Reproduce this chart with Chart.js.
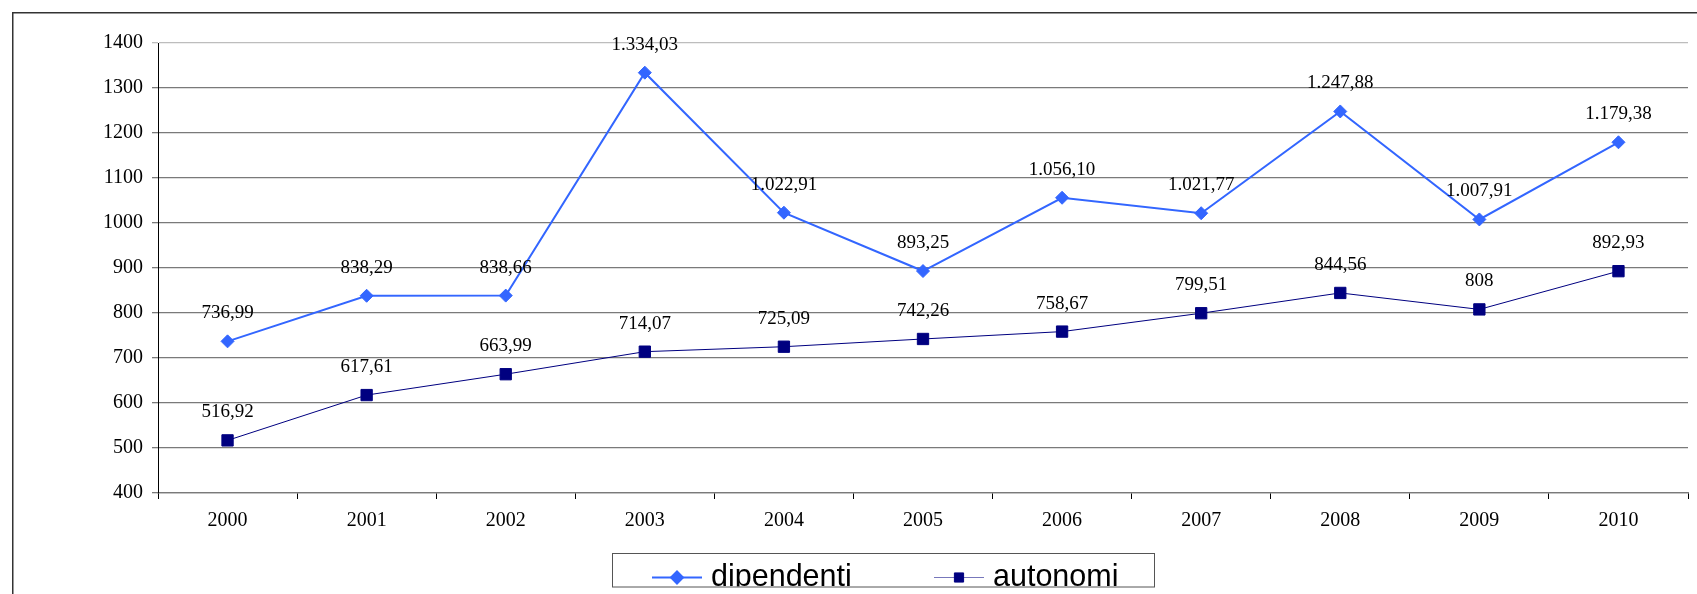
<!DOCTYPE html>
<html>
<head>
<meta charset="utf-8">
<script src="https://cdn.jsdelivr.net/npm/chart.js@4.4.1/dist/chart.umd.min.js"></script>
<style>
  html, body { margin: 0; padding: 0; background: #fff; overflow: hidden; }
  #wrap { position: relative; width: 1697px; height: 594px; }
  canvas { display: block; }
</style>
</head>
<body>
<div id="wrap"><canvas id="chart" width="1697" height="594"></canvas></div>
<script>
// Anni
const years = ['2000', '2001', '2002', '2003', '2004', '2005', '2006', '2007', '2008', '2009', '2010'];
// Valori per serie
const dipendenti = [736.99, 838.29, 838.66, 1334.03, 1022.91, 893.25, 1056.10, 1021.77, 1247.88, 1007.91, 1179.38];
const autonomi = [516.92, 617.61, 663.99, 714.07, 725.09, 742.26, 758.67, 799.51, 844.56, 808, 892.93];
// Asse Y
const yMin = 400;
const yMax = 1400;
const yStep = 100;

const SERIF = "'Liberation Serif', 'Times New Roman', serif";
const SANS = "'Liberation Sans', Arial, sans-serif";

// Formato italiano: punto per le migliaia, virgola per i decimali
function formatIt(v) {
  const s = Number.isInteger(v) ? String(v) : v.toFixed(2);
  const [intPart, dec] = s.split('.');
  const grouped = intPart.replace(/\B(?=(\d{3})+(?!\d))/g, '.');
  return dec !== undefined ? grouped + ',' + dec : grouped;
}

// Cornice esterna (solo lati sinistro e superiore visibili)
const framePlugin = {
  id: 'frame',
  beforeDraw(chart) {
    const ctx = chart.ctx;
    ctx.save();
    ctx.fillStyle = '#fff';
    ctx.fillRect(0, 0, chart.width, chart.height);
    ctx.strokeStyle = '#333';
    ctx.lineWidth = 1.5;
    ctx.beginPath();
    ctx.moveTo(12.75, chart.height + 2);
    ctx.lineTo(12.75, 12.75);
    ctx.lineTo(chart.width + 2, 12.75);
    ctx.stroke();
    ctx.restore();
  }
};

// Etichette dei valori sopra ogni punto
const valueLabelsPlugin = {
  id: 'valueLabels',
  afterDatasetsDraw(chart) {
    const ctx = chart.ctx;
    ctx.save();
    ctx.font = '19px ' + SERIF;
    ctx.fillStyle = '#000';
    ctx.textAlign = 'center';
    ctx.textBaseline = 'alphabetic';
    chart.data.datasets.forEach((ds, i) => {
      const meta = chart.getDatasetMeta(i);
      meta.data.forEach((pt, j) => {
        ctx.fillText(formatIt(ds.data[j]), pt.x, pt.y - 23);
      });
    });
    ctx.restore();
  }
};

// Legenda in riquadro sotto il grafico
const boxLegendPlugin = {
  id: 'boxLegend',
  afterDraw(chart, args, opts) {
    const ctx = chart.ctx;
    const box = opts.box;
    ctx.save();
    ctx.fillStyle = '#fff';
    ctx.fillRect(box.x, box.y, box.w, box.h);
    ctx.beginPath();
    ctx.rect(box.x, box.y, box.w, box.h);
    ctx.clip();
    ctx.font = '30.5px ' + SANS;
    ctx.textBaseline = 'alphabetic';
    ctx.textAlign = 'left';
    chart.data.datasets.forEach((ds, i) => {
      const x0 = opts.itemX[i];
      const cy = box.y + opts.lineY;
      ctx.strokeStyle = ds.legendLineColor || ds.borderColor;
      ctx.lineWidth = ds.borderWidth;
      ctx.beginPath();
      ctx.moveTo(x0, cy);
      ctx.lineTo(x0 + opts.lineLen, cy);
      ctx.stroke();
      ctx.fillStyle = ds.borderColor;
      ctx.strokeStyle = ds.borderColor;
      Chart.helpers.drawPoint(ctx, {
        pointStyle: ds.pointStyle,
        radius: opts.markerRadius[i],
        rotation: 0,
        borderWidth: 1
      }, x0 + opts.lineLen / 2, cy);
      ctx.fillStyle = '#000';
      ctx.fillText(ds.label, x0 + opts.lineLen + 9, box.y + opts.textY);
    });
    ctx.restore();
    ctx.save();
    ctx.strokeStyle = '#555';
    ctx.lineWidth = 1;
    ctx.strokeRect(box.x + 0.5, box.y + 0.5, box.w, box.h);
    ctx.restore();
  }
};

const chart = new Chart(document.getElementById('chart'), {
  type: 'line',
  data: {
    labels: years,
    datasets: [
      {
        label: 'dipendenti',
        data: dipendenti,
        borderColor: '#3366ff',
        backgroundColor: '#3366ff',
        borderWidth: 2,
        pointStyle: 'rectRot',
        pointRadius: 6.5,
        pointBorderWidth: 1,
        pointBackgroundColor: '#3366ff',
        pointBorderColor: '#3366ff',
        tension: 0,
        fill: false
      },
      {
        label: 'autonomi',
        data: autonomi,
        borderColor: '#000080',
        backgroundColor: '#000080',
        legendLineColor: '#7777bb',
        borderWidth: 1,
        pointStyle: 'rect',
        pointRadius: 8,
        pointBorderWidth: 1,
        pointBackgroundColor: '#000080',
        pointBorderColor: '#000080',
        tension: 0,
        fill: false
      }
    ]
  },
  options: {
    responsive: false,
    animation: false,
    events: [],
    layout: { padding: { top: 43, right: 2.3, bottom: 0, left: 0 } },
    plugins: {
      legend: { display: false },
      tooltip: { enabled: false },
      boxLegend: {
        box: { x: 612, y: 553, w: 542, h: 33.5 },
        itemX: [652, 934],
        lineLen: 50,
        lineY: 24.5,
        textY: 32.5,
        markerRadius: [6, 6.5]
      }
    },
    scales: {
      x: {
        type: 'category',
        offset: true,
        grid: {
          display: true,
          drawOnChartArea: false,
          drawTicks: true,
          tickLength: 6,
          offset: true,
          color: '#000',
          lineWidth: 1
        },
        border: { display: true, color: '#7a7a7a', width: 1.3 },
        ticks: {
          color: '#000',
          font: { family: SERIF, size: 20 },
          padding: 10,
          maxRotation: 0,
          autoSkip: false
        },
        afterFit(scale) { scale.height = 101; }
      },
      y: {
        min: yMin,
        max: yMax,
        ticks: {
          stepSize: yStep,
          color: '#000',
          font: { family: SERIF, size: 20 },
          padding: 9,
          callback: v => String(v)
        },
        grid: {
          color: ctx => (ctx.tick && ctx.tick.value === yMax) ? '#bdbdbd' : '#7a7a7a',
          lineWidth: 1.3,
          tickLength: 6,
          drawTicks: true
        },
        border: { display: true, color: '#000', width: 1 },
        afterFit(scale) { scale.width = 158; }
      }
    }
  },
  plugins: [framePlugin, valueLabelsPlugin, boxLegendPlugin]
});
</script>
</body>
</html>
